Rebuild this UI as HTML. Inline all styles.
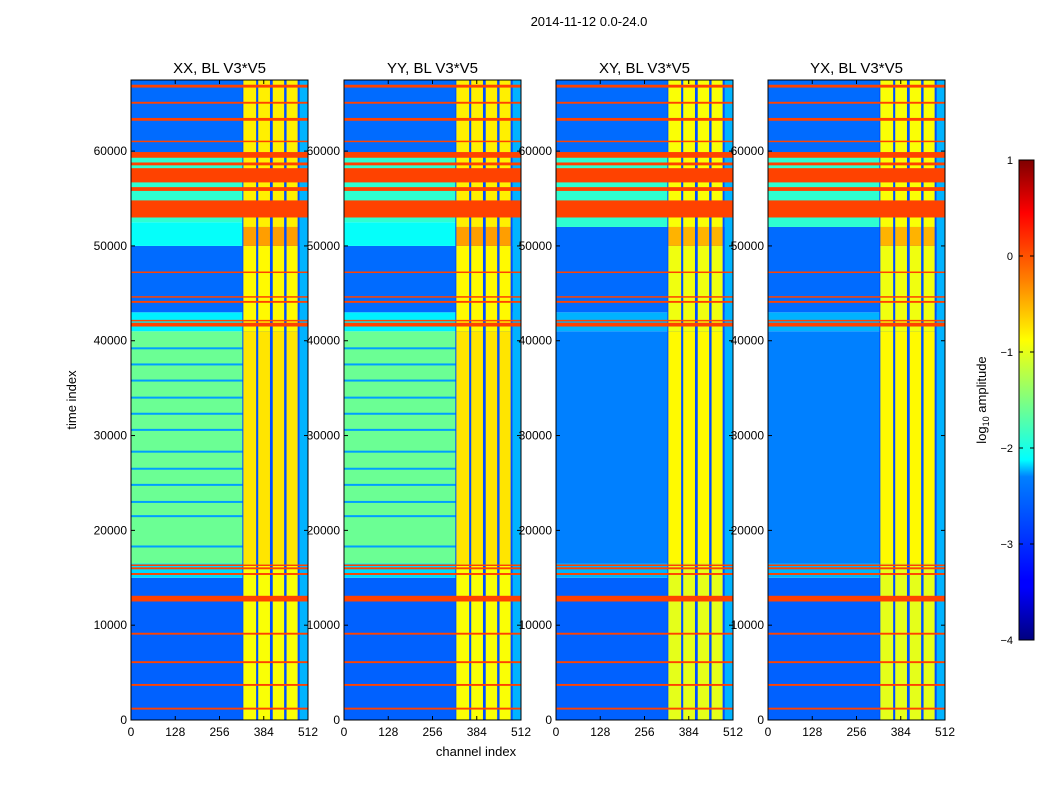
<!DOCTYPE html>
<html><head><meta charset="utf-8"><style>
body{margin:0;background:#fff;font-family:"Liberation Sans",sans-serif}
svg text{font-family:"Liberation Sans",sans-serif}
</style></head><body>
<svg id="fig" width="1050" height="800" xmlns="http://www.w3.org/2000/svg">
<defs><linearGradient id="jet" x1="0" y1="1" x2="0" y2="0">
<stop offset="0" stop-color="#00007f"/><stop offset="0.11" stop-color="#0000ff"/><stop offset="0.125" stop-color="#0000ff"/>
<stop offset="0.34" stop-color="#0080ff"/><stop offset="0.375" stop-color="#00ffff"/><stop offset="0.5" stop-color="#80ff80"/>
<stop offset="0.625" stop-color="#ffff00"/><stop offset="0.75" stop-color="#ff8000"/><stop offset="0.89" stop-color="#ff0000"/><stop offset="1" stop-color="#7f0000"/>
</linearGradient></defs>
<text x="589" y="26" font-size="13" text-anchor="middle">2014-11-12 0.0-24.0</text>
<text x="76" y="400" font-size="13" text-anchor="middle" transform="rotate(-90 76 400)">time index</text>
<text x="476" y="756" font-size="13" text-anchor="middle">channel index</text>
<g id="panels"></g>
<g>
<rect x="1019" y="160" width="15" height="480" fill="url(#jet)" stroke="#000"/>
</g>
<g id="cbticks"></g>
<text x="986" y="400" font-size="13" text-anchor="middle" transform="rotate(-90 986 400)">log<tspan font-size="9" dy="3">10</tspan><tspan dy="-3"> amplitude</tspan></text>
</svg>
<script>
const panelTitles=["XX, BL V3*V5","YY, BL V3*V5","XY, BL V3*V5","YX, BL V3*V5"];
const panelX=[131,344,556,768];
const xTicks=[0,128,256,384,512];
const yTicks=[0,10000,20000,30000,40000,50000,60000];
const cbTicks=[1,0,-1,-2,-3,-4];
const bandsCo=[[0,15000,-2.9],[15000,16500,-2.3],[16500,41000,-1.6],[41000,43000,-2.2],[43000,50000,-2.85],[50000,52500,-2.1],[52500,59500,-1.9],[59500,67500,-2.85]];
const bandsCross=[[0,15000,-2.9],[15000,16500,-2.5],[16500,41000,-2.75],[41000,43000,-2.5],[43000,52000,-2.85],[52000,59500,-1.9],[59500,67500,-2.85]];
const panelBands=[bandsCo,bandsCo,bandsCross,bandsCross];
const strips=[[325,362],[368,402],[410,443],[450,482]];
const stripBands=[[0,16500,-0.9],[16500,41000,-0.75],[41000,50000,-0.85],[50000,52000,-0.4],[52000,67500,-0.8]];
const darkLines=[18300,21500,23000,24800,26500,28300,30600,32300,34000,35800,37500,39200];
const orangeLines=[[1100,1300],[3600,3800],[6000,6200],[9000,9200],[12500,13100],[15300,15500],[15900,16100],[16300,16400],[41500,41900],[42100,42200],[44000,44200],[44600,44700],[47200,47300],[53000,54800],[55800,56200],[56700,58200],[58500,58800],[59300,59900],[61000,61100],[63200,63500],[65000,65200],[66700,67000]];
const W=177,TOP=80,BOT=720,TMAX=67500,CMAX=512;
function jet(v){let t=(v+4)/5;const c=x=>Math.round(255*Math.max(0,Math.min(1,x)));
return `rgb(${c(1.5-Math.abs(4*t-3))},${c(1.5-Math.abs(4*t-2))},${c(1.5-Math.abs(4*t-1))})`;}
const NS="http://www.w3.org/2000/svg";
function el(tag,attrs,parent){const e=document.createElementNS(NS,tag);for(const k in attrs)e.setAttribute(k,attrs[k]);parent.appendChild(e);return e;}
const root=document.getElementById('panels');
panelX.forEach((x0,p)=>{
 const sx=c=>x0+c/CMAX*W, sy=t=>BOT-t/TMAX*(BOT-TOP);
 const g=el('g',{},root);
 
 
 panelBands[p].forEach(b=>{const r=el('rect',{x:sx(0),y:sy(b[1]),width:W,height:sy(b[0])-sy(b[1]),fill:jet(b[2])},g);
  
  });
 if(p<2)darkLines.forEach(t=>{const r=el('rect',{x:sx(0),y:sy(t)-1,width:sx(325)-sx(0),height:2,fill:jet(-2.6)},g);
  
  });
 const base=el('rect',{x:sx(322),y:TOP,width:sx(488)-sx(322),height:BOT-TOP,fill:jet(-3.0)},g);
 
 
 const r2=el('rect',{x:sx(488),y:TOP,width:sx(512)-sx(488),height:BOT-TOP,fill:jet(-2.5)},g);
 
 
 strips.forEach(s=>stripBands.forEach(b=>{const r=el('rect',{x:sx(s[0]),y:sy(b[1]),width:sx(s[1])-sx(s[0]),height:sy(b[0])-sy(b[1]),fill:jet(b[2]+(p>=2?-0.1:0))},g);
  
  }));
 orangeLines.forEach(o=>{const r=el('rect',{x:sx(0),y:sy(o[1]),width:W,height:Math.max(1.5,sy(o[0])-sy(o[1])),fill:jet(0.05)},g);
  
  });
 const fr=el('rect',{x:x0,y:TOP,width:W,height:BOT-TOP,fill:'none',stroke:'#000'},g);
 
 
 const tt=el('text',{x:x0+W/2,y:73,'font-size':15,'text-anchor':'middle'},g);tt.textContent=panelTitles[p];
 
 
 xTicks.forEach(c=>{el('line',{x1:sx(c),x2:sx(c),y1:BOT,y2:BOT-4,stroke:'#000'},g);el('line',{x1:sx(c),x2:sx(c),y1:TOP,y2:TOP+4,stroke:'#000'},g);
  const t=el('text',{x:sx(c),y:BOT+16,'font-size':12,'text-anchor':'middle'},g);t.textContent=c;
  
  });
 yTicks.forEach(v=>{el('line',{x1:x0,x2:x0+4,y1:sy(v),y2:sy(v),stroke:'#000'},g);el('line',{x1:x0+W,x2:x0+W-4,y1:sy(v),y2:sy(v),stroke:'#000'},g);
  const t=el('text',{x:x0-4,y:sy(v)+4,'font-size':12,'text-anchor':'end'},g);t.textContent=v;
  
  });
});
const cb=document.getElementById('cbticks');
cbTicks.forEach(v=>{const y=160+(1-v)/5*480;
 el('line',{x1:1019,x2:1023,y1:y,y2:y,stroke:'#000'},cb);el('line',{x1:1034,x2:1030,y1:y,y2:y,stroke:'#000'},cb);
 const t=el('text',{x:1013,y:y+4,'font-size':11,'text-anchor':'end'},cb);t.textContent=v<0?'\u2212'+(-v):v;
 
 });
</script>
</body></html>
